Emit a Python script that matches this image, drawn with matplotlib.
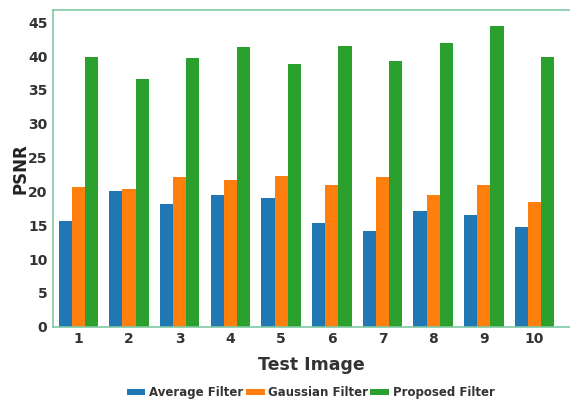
import matplotlib
matplotlib.use("Agg")
import matplotlib.pyplot as plt
import numpy as np

images = ["1", "2", "3", "4", "5", "6", "7", "8", "9", "10"]
average = [15.6, 20.1, 18.1, 19.4, 19.0, 15.3, 14.2, 17.1, 16.5, 14.7]
gaussian = [20.6, 20.4, 22.1, 21.7, 22.3, 20.9, 22.2, 19.4, 21.0, 18.5]
proposed = [39.8, 36.6, 39.7, 41.3, 38.9, 41.5, 39.3, 42.0, 44.4, 39.8]
series_names = ["Average Filter", "Gaussian Filter", "Proposed Filter"]
yticks = [0, 5, 10, 15, 20, 25, 30, 35, 40, 45]

colors = ["#1f77b4", "#ff7f0e", "#2ca02c"]

fig = plt.figure(figsize=(5.70, 4.01), dpi=100)
ax = fig.add_axes([0.093, 0.185, 0.907, 0.79])

x = np.arange(1, len(images) + 1)
w = 0.26
for i, (vals, name) in enumerate(zip([average, gaussian, proposed], series_names)):
    ax.bar(x + (i - 1) * w, vals, width=w, color=colors[i], label=name)

ax.set_xlim(0.5, 10.7)
ax.set_ylim(0, 46.8)
ax.set_xticks(x)
ax.set_xticklabels(images)
ax.set_yticks(yticks)
ax.tick_params(length=0, labelsize=10, colors="#333333", pad=4)
for lbl in ax.get_xticklabels() + ax.get_yticklabels():
    lbl.set_fontweight("bold")

for s in ["left", "top", "bottom"]:
    ax.spines[s].set_color("#7fc8a4")
    ax.spines[s].set_linewidth(1.2)
ax.spines["right"].set_visible(False)

ax.set_ylabel("PSNR", fontsize=12, fontweight="bold", color="#222222", labelpad=-1)
ax.set_xlabel("Test Image", fontsize=12.5, fontweight="bold", color="#333333", labelpad=7)

leg = fig.legend(loc="center", bbox_to_anchor=(0.545, 0.02), ncol=3, frameon=False,
                 handlelength=1.6, handleheight=0.45, columnspacing=0.2,
                 handletextpad=0.3, prop={"weight": "bold", "size": 8.5})
for t in leg.get_texts():
    t.set_color("#333333")

fig.savefig("out.png", dpi=100)
